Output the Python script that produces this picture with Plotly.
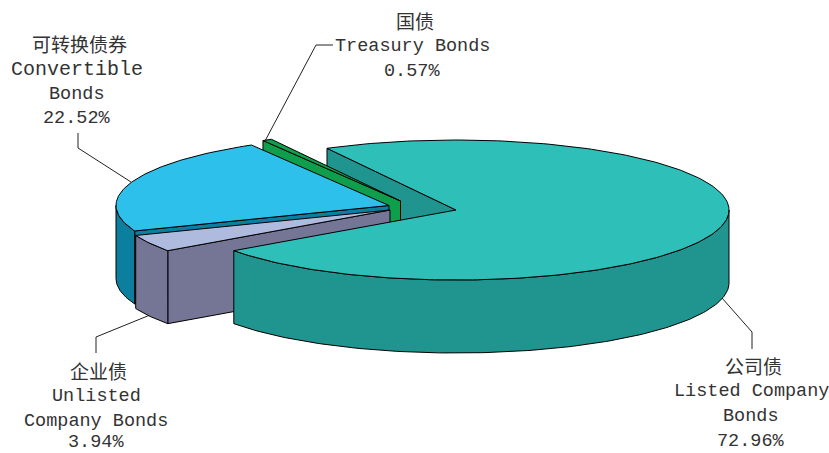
import numpy as np
import plotly.graph_objects as go

# Data (clockwise, beginning with the largest slice)
names_en = ["Listed Company Bonds", "Unlisted Company Bonds", "Convertible Bonds", "Treasury Bonds"]
values = [72.96, 3.94, 22.52, 0.57]
label_lines = [
    ["公司债", "Listed Company", "Bonds", "72.96%"],
    ["企业债", "Unlisted", "Company Bonds", "3.94%"],
    ["可转换债券", "Convertible", "Bonds", "22.52%"],
    ["国债", "Treasury Bonds", "0.57%"],
]

# Styling / layout
top_colors = ["#2fbfb9", "#aebbdf", "#2dc0ea", "#0e9e4c"]
wall_colors = ["#20958f", "#757596", "#0c7f9e", "#0e9e4c"]
apex_x = [456, 390, 389, 400.5]
apex_y = [210, 210, 205.5, 201]
label_x = [751, 96, 77, 412]
label_y = [
    [366, 391, 416, 441],
    [371, 396, 421, 442],
    [44, 69, 94, 118],
    [21, 46, 71],
]
RX, RY, DEPTH = 273, 70, 73
START_ANGLE = 331.8
W, H = 829, 453
TEXT = "#333333"
CJK_SHIFT_X, CJK_SHIFT_Y = 2.5, -1

total = sum(values)
starts, ends = [], []
a = START_ANGLE
for v in values:
    starts.append(a)
    a += 360 * v / total
    ends.append(a)


def rim(i, t0, t1, dz=0):
    t = np.radians(np.linspace(t0, t1, max(2, int(abs(t1 - t0)) + 2)))
    return apex_x[i] + RX * np.sin(t), apex_y[i] - RY * np.cos(t) + dz


def poly(xs, ys, color):
    return go.Scatter(x=list(xs), y=list(ys), mode="lines", fill="toself", fillcolor=color,
                      line=dict(color="black", width=1), hoverinfo="skip", showlegend=False)


def top(i):
    x, y = rim(i, starts[i], ends[i])
    return poly([apex_x[i], *x, apex_x[i]], [apex_y[i], *y, apex_y[i]], top_colors[i])


def ray_wall(i):
    x, y = rim(i, starts[i], starts[i])
    ax, ay = apex_x[i], apex_y[i]
    return poly([ax, x[0], x[0], ax, ax], [ay, y[0], y[0] + DEPTH, ay + DEPTH, ay], wall_colors[i])


def outer_wall(i):
    # only the part of the rim that faces the viewer (90..270 degrees, any turn)
    for k in (0, 360):
        t0, t1 = max(starts[i], 90 + k), min(ends[i], 270 + k)
        if t1 > t0:
            x, y = rim(i, t0, t1)
            xb, yb = rim(i, t1, t0, DEPTH)
            return poly([*x, *xb, x[0]], [*y, *yb, y[0]], wall_colors[i])


def leader(xs, ys):
    return go.Scatter(x=xs, y=ys, mode="lines", line=dict(color="#222222", width=1),
                      hoverinfo="skip", showlegend=False)


fig = go.Figure()
fig.add_trace(leader([265, 316, 333], [141, 45, 45]))
fig.add_trace(leader([78, 78, 131], [133, 148, 182]))
fig.add_trace(leader([722, 752, 752], [298, 332, 349]))
fig.add_trace(leader([96, 96, 150], [353, 337, 315]))

TEAL, LAV, BLUE, GREEN = 0, 1, 2, 3
fig.add_trace(ray_wall(TEAL))
fig.add_trace(ray_wall(GREEN))
fig.add_trace(top(GREEN))
fig.add_trace(ray_wall(BLUE))
fig.add_trace(outer_wall(BLUE))
fig.add_trace(top(BLUE))
fig.add_trace(ray_wall(LAV))
fig.add_trace(outer_wall(LAV))
fig.add_trace(top(LAV))
fig.add_trace(outer_wall(TEAL))
fig.add_trace(top(TEAL))

for lines, cx, ys in zip(label_lines, label_x, label_y):
    for j, (txt, yy) in enumerate(zip(lines, ys)):
        cjk = j == 0
        size = 19 if cjk else (20 if txt == "Convertible" else 18.5)
        fig.add_annotation(
            x=cx + (CJK_SHIFT_X if cjk else 0), y=yy + (CJK_SHIFT_Y if cjk else 0),
            text=txt, showarrow=False, xanchor="center", yanchor="middle",
            font=dict(family="Noto Sans CJK SC" if cjk else "Liberation Mono",
                      size=size, color=TEXT),
        )

fig.update_layout(
    width=W, height=H, margin=dict(l=0, r=0, t=0, b=0),
    paper_bgcolor="white", plot_bgcolor="white", showlegend=False,
    xaxis=dict(range=[0, W], visible=False, fixedrange=True),
    yaxis=dict(range=[H, 0], visible=False, fixedrange=True),
)
fig.write_html("out.html", config={"displayModeBar": False},
               post_script="document.body.style.margin='0';document.body.style.overflow='hidden';")
